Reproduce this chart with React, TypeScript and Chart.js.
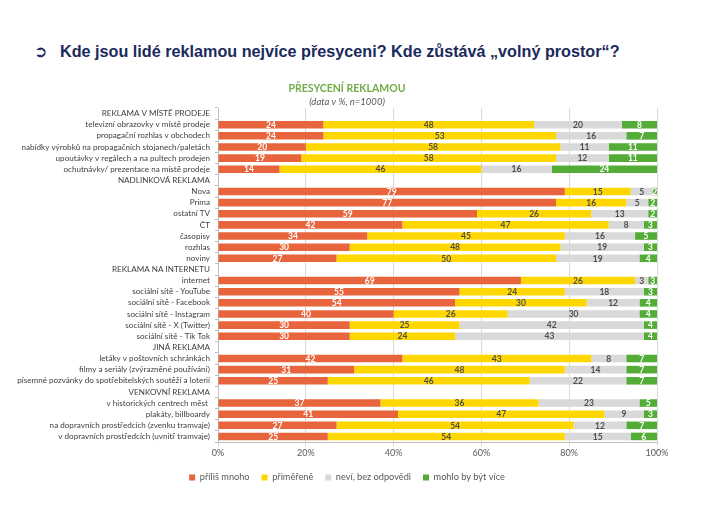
import React, { useEffect, useRef } from "react";
import { Chart, registerables } from "chart.js";
Chart.register(...registerables);

const categories = [
  "REKLAMA V MÍSTĚ PRODEJE",
  "televizní obrazovky v místě prodeje",
  "propagační rozhlas v obchodech",
  "nabídky výrobků na propagačních stojanech/paletách",
  "upoutávky v regálech a na pultech prodejen",
  "ochutnávky/ prezentace na místě prodeje",
  "NADLINKOVÁ REKLAMA",
  "Nova",
  "Prima",
  "ostatní TV",
  "ČT",
  "časopisy",
  "rozhlas",
  "noviny",
  "REKLAMA NA INTERNETU",
  "internet",
  "sociální sítě - YouTube",
  "sociální sítě - Facebook",
  "sociální sítě - Instagram",
  "sociální sítě - X (Twitter)",
  "sociální sítě - Tik Tok",
  "JINÁ REKLAMA",
  "letáky v poštovních schránkách",
  "filmy a seriály (zvýrazněné používání)",
  "písemné pozvánky do spotřebitelských soutěží a loterií",
  "VENKOVNÍ REKLAMA",
  "v historických centrech měst ",
  "plakáty, billboardy",
  "na dopravních prostředcích (zvenku tramvaje)",
  "v dopravních prostředcích (uvnitř tramvaje)",
];

const tooMuch = [null, 24, 24, 20, 19, 14, null, 79, 77, 59, 42, 34, 30, 27, null, 69, 55, 54, 40, 30, 30, null, 42, 31, 25, null, 37, 41, 27, 25];
const adequate = [null, 48, 53, 58, 58, 46, null, 15, 16, 26, 47, 45, 48, 50, null, 26, 24, 30, 26, 25, 24, null, 43, 48, 46, null, 36, 47, 54, 54];
const dontKnow = [null, 20, 16, 11, 12, 16, null, 5, 5, 13, 8, 16, 19, 19, null, 3, 18, 12, 30, 42, 43, null, 8, 14, 22, null, 23, 9, 12, 15];
const couldBeMore = [null, 8, 7, 11, 11, 24, null, 2, 2, 2, 3, 5, 3, 4, null, 3, 3, 4, 4, 4, 4, null, 7, 7, 7, null, 5, 3, 7, 6];

const seriesNames = ["příliš mnoho", "přiměřeně", "neví, bez odpovědi", "mohlo by být více"];
const seriesColors = ["#E8643C", "#FFD700", "#D9D9D9", "#52AC36"];
const labelColors = ["#FFFFFF", "#4D4D4D", "#4D4D4D", "#FFFFFF"];
const xTicks = [0, 20, 40, 60, 80, 100];

const FONT = "Lato, 'Open Sans', sans-serif";

const dataLabelPlugin = {
  id: "dataLabels",
  afterDatasetsDraw(chart: any) {
    const ctx = chart.ctx;
    const area = chart.chartArea;
    ctx.save();
    ctx.font = `bold 8.5px ${FONT}`;
    ctx.textAlign = "center";
    ctx.textBaseline = "middle";
    chart.data.datasets.forEach((ds: any, di: number) => {
      const meta = chart.getDatasetMeta(di);
      meta.data.forEach((bar: any, i: number) => {
        const v = ds.data[i];
        if (v === null || v === undefined) return;
        const end = Math.min(bar.x, area.right);
        const start = Math.min(bar.base, area.right);
        const cx = (end + start) / 2;
        ctx.fillStyle = labelColors[di];
        ctx.fillText(String(v), cx, bar.y + 0.5);
      });
    });
    ctx.restore();
  },
};

export default function App() {
  const ref = useRef<HTMLCanvasElement>(null);
  useEffect(() => {
    if (!ref.current) return;
    const values = [tooMuch, adequate, dontKnow, couldBeMore];
    const chart = new Chart(ref.current, {
      type: "bar",
      data: {
        labels: categories,
        datasets: values.map((d, i) => ({
          label: seriesNames[i],
          data: d,
          backgroundColor: seriesColors[i],
          borderWidth: 0,
          barPercentage: 0.68,
          categoryPercentage: 1,
        })),
      },
      options: {
        indexAxis: "y",
        responsive: false,
        animation: false,
        layout: { padding: { left: 0, right: 0, top: 0, bottom: 40 } },
        plugins: {
          title: {
            display: true,
            text: "PŘESYCENÍ REKLAMOU",
            color: "#70AD47",
            font: { family: FONT, size: 10.5, weight: "bold" },
            padding: { top: 7, bottom: 0 },
          },
          subtitle: {
            display: true,
            text: "(data v %, n=1000)",
            color: "#595959",
            font: { family: FONT, size: 9.5, style: "italic" },
            padding: { top: 2, bottom: 0 },
          },
          legend: {
            position: "bottom",
            labels: {
              boxWidth: 6,
              boxHeight: 6,
              padding: 12,
              color: "#595959",
              font: { family: FONT, size: 9.2 },
            },
          },
          tooltip: { enabled: false },
        },
        scales: {
          x: {
            stacked: true,
            min: 0,
            max: 100,
            afterBuildTicks(scale: any) {
              scale.ticks = xTicks.map((v) => ({ value: v }));
            },
            ticks: {
              color: "#595959",
              font: { family: FONT, size: 9 },
              callback: (v: any) => v + "%",
              padding: 2,
              maxRotation: 0,
            },
            grid: { color: "#D9D9D9", tickLength: 4, lineWidth: 1 },
            border: { color: "#BFBFBF" },
          },
          y: {
            stacked: true,
            afterFit(scale: any) {
              scale.width = 218;
            },
            ticks: {
              color: "#404040",
              font: { family: FONT, size: 8.1 },
              autoSkip: false,
              padding: 5,
            },
            grid: { display: true, drawOnChartArea: false, drawTicks: true, tickLength: 3, color: "#BFBFBF" },
            border: { color: "#BFBFBF" },
          },
          yRight: {
            type: "linear",
            position: "right",
            display: true,
            afterFit(scale: any) {
              scale.width = 37;
            },
            ticks: { display: false },
            grid: { display: false, drawTicks: false },
            border: { display: false },
          },
        },
      },
      plugins: [dataLabelPlugin],
    } as any);
    return () => chart.destroy();
  }, []);

  return (
    <div style={{ position: "absolute", left: 0, top: 0, width: 720, height: 532, background: "#fff", overflow: "hidden" }}>
      <div
        style={{
          position: "absolute",
          left: 34,
          top: 42,
          fontFamily: "'Liberation Sans', Arial, sans-serif",
          fontWeight: "bold",
          fontSize: 16.2,
          color: "#1B2A5C",
          whiteSpace: "nowrap",
        }}
      >
        <span style={{ display: "inline-block", width: 26, fontFamily: "'DejaVu Sans', sans-serif", fontSize: 16 }}>➲</span>
        <span>Kde jsou lidé reklamou nejvíce přesyceni? Kde zůstává „volný prostor“?</span>
      </div>
      <canvas ref={ref} width={694} height={457} style={{ position: "absolute", left: 0, top: 75 }} />
    </div>
  );
}
